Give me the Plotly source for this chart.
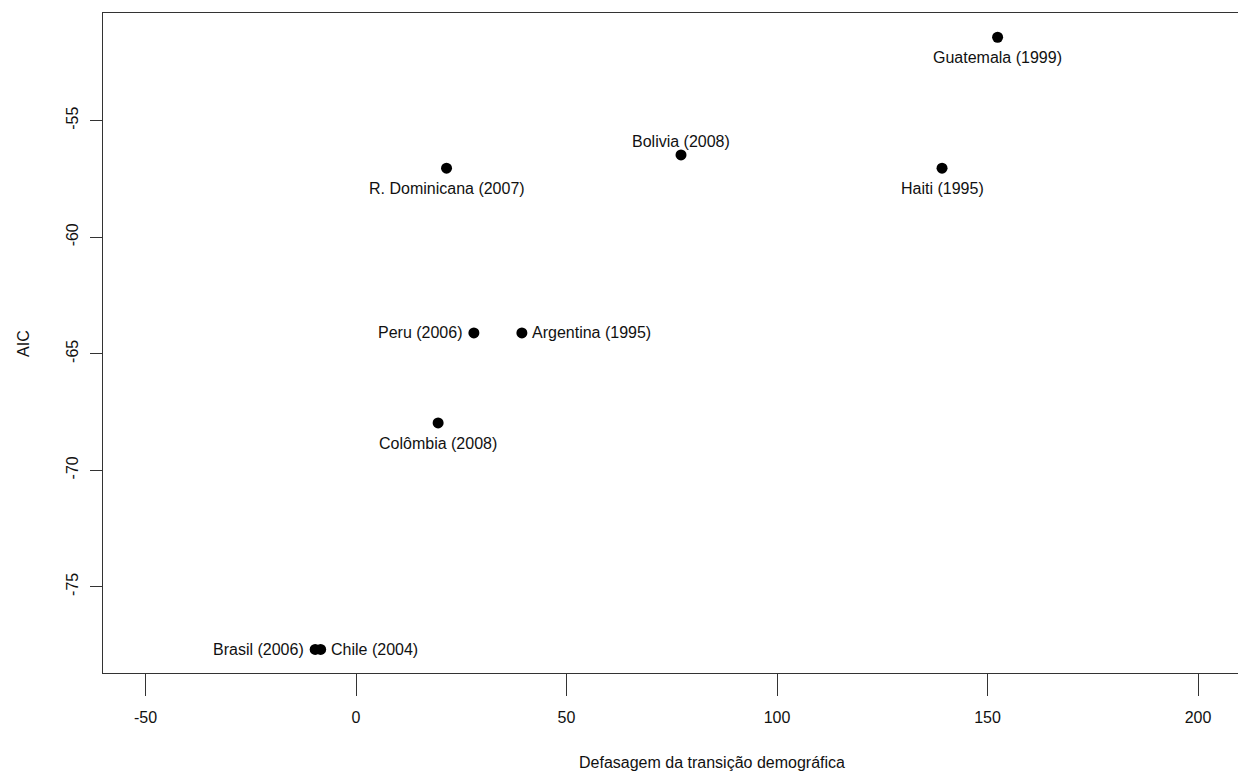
import plotly.graph_objects as go

countries = ["Guatemala (1999)", "Bolivia (2008)", "R. Dominicana (2007)", "Haiti (1995)",
             "Peru (2006)", "Argentina (1995)", "Colômbia (2008)", "Brasil (2006)", "Chile (2004)"]
lag = [152.4, 77.2, 21.5, 139.2, 28.0, 39.4, 19.5, -9.7, -8.4]
aic = [-51.42, -56.47, -57.04, -57.04, -64.11, -64.11, -67.97, -77.69, -77.69]
label_side = ["below", "above", "below", "below", "left", "right", "below", "left", "right"]

x_ticks = [-50, 0, 50, 100, 150, 200]
y_ticks = [-75, -70, -65, -60, -55]

FONT = "Liberation Sans, Arial, sans-serif"
FS = 16

fig = go.Figure()
fig.add_trace(go.Scatter(
    x=lag, y=aic, mode="markers",
    marker=dict(color="black", size=11),
    hoverinfo="skip", showlegend=False, cliponaxis=False,
))

side_style = {
    "below": dict(xanchor="center", yanchor="top", xshift=0, yshift=-10),
    "above": dict(xanchor="center", yanchor="bottom", xshift=0, yshift=3),
    "left": dict(xanchor="right", yanchor="middle", xshift=-9, yshift=0),
    "right": dict(xanchor="left", yanchor="middle", xshift=8, yshift=0),
}

annotations = []
for name, xv, yv, side in zip(countries, lag, aic, label_side):
    annotations.append(dict(text=name, x=xv, y=yv, xref="x", yref="y", showarrow=False,
                            font=dict(family=FONT, size=FS, color="#111"),
                            **side_style[side]))

annotations += [
    dict(text="Defasagem da transição demográfica", xref="paper", yref="paper",
         x=0.5366, y=-0.136, xanchor="center", yanchor="middle", showarrow=False,
         font=dict(family=FONT, size=FS, color="#111")),
    dict(text="AIC", xref="paper", yref="paper", x=-0.0705, y=0.5,
         xanchor="center", yanchor="middle", textangle=-90, showarrow=False,
         font=dict(family=FONT, size=FS, color="#111")),
]

fig.update_layout(
    width=1238, height=781,
    margin=dict(l=103, r=0, t=13, b=108, autoexpand=False),
    paper_bgcolor="white", plot_bgcolor="white",
    font=dict(family=FONT, size=FS, color="#111"),
    xaxis=dict(range=[-60.1, 209.5], tickvals=x_ticks, ticktext=[str(v) for v in x_ticks],
               showgrid=False, zeroline=False, showline=True, mirror=True, automargin=False,
               linecolor="#333", linewidth=1.2, ticks="outside", ticklen=22,
               tickcolor="#333", tickwidth=1.2, ticklabelstandoff=8,
               tickfont=dict(family=FONT, size=FS, color="#111")),
    yaxis=dict(range=[-78.70, -50.38], tickvals=y_ticks, ticktext=[str(v) for v in y_ticks],
               showgrid=False, zeroline=False, showline=True, mirror=False, automargin=False,
               linecolor="#333", linewidth=1.2, ticks="outside", ticklen=12,
               tickcolor="#333", tickwidth=1.2, tickangle=-90, ticklabelstandoff=6,
               tickfont=dict(family=FONT, size=FS, color="#111")),
    annotations=annotations,
)

fig.write_html("out.html", config={"displayModeBar": False},
               post_script="document.body.style.margin='0';document.body.style.overflow='hidden';")
